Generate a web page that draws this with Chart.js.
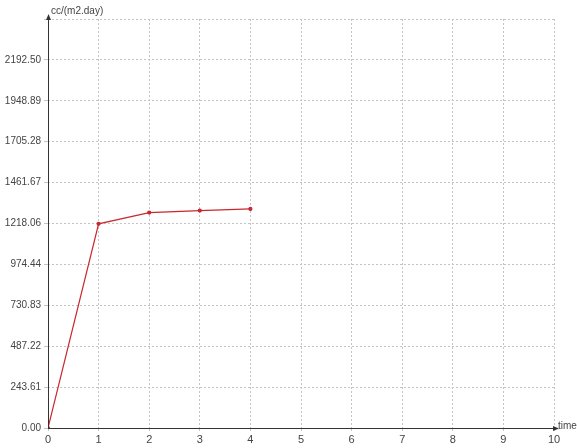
<!DOCTYPE html>
<html><head><meta charset="utf-8">
<script src="https://cdn.jsdelivr.net/npm/chart.js@4"></script>
<style>html,body{margin:0;padding:0;background:#fff}#wrap{width:577px;height:448px}</style>
</head><body><div id="wrap"><canvas id="c" width="577" height="448"></canvas></div>
<script>
const timeValues = [0, 1, 2, 3, 4];
const rateValues = [0, 1216, 1283, 1295, 1305];
const yTickLabels = ['0.00', '243.61', '487.22', '730.83', '974.44', '1218.06', '1461.67', '1705.28', '1948.89', '2192.50'];
const yMax = 2436.11;
const xMin = 0, xMax = 10;
const yTitle = 'cc/(m2.day)';
const xTitle = 'time';
const FONT = 'Liberation Sans';

const decor = {
  id: 'decor',
  afterDraw(chart) {
    const {ctx, chartArea: a} = chart;
    ctx.save();
    ctx.strokeStyle = '#333'; ctx.fillStyle = '#333'; ctx.lineWidth = 1;
    ctx.beginPath();
    ctx.moveTo(a.left + 0.5, a.bottom); ctx.lineTo(a.left + 0.5, a.top - 3);
    ctx.moveTo(a.left, a.bottom + 0.5); ctx.lineTo(a.right + 3, a.bottom + 0.5);
    ctx.stroke();
    ctx.beginPath();
    ctx.moveTo(a.left + 0.5, a.top - 5); ctx.lineTo(a.left - 2, a.top + 1); ctx.lineTo(a.left + 3, a.top + 1); ctx.closePath(); ctx.fill();
    ctx.beginPath();
    ctx.moveTo(a.right + 5, a.bottom + 0.5); ctx.lineTo(a.right - 1, a.bottom - 2); ctx.lineTo(a.right - 1, a.bottom + 3); ctx.closePath(); ctx.fill();
    ctx.font = '10px "' + FONT + '"';
    ctx.fillStyle = '#444';
    ctx.textBaseline = 'middle';
    ctx.textAlign = 'left';
    ctx.fillText(yTitle, a.left + 3, a.top - 8);
    ctx.fillText(xTitle, a.right + 4, a.bottom - 2);
    ctx.restore();
  }
};

new Chart(document.getElementById('c'), {
  type: 'line',
  data: {
    datasets: [{
      data: timeValues.map((t, i) => ({x: t, y: rateValues[i]})),
      borderColor: '#c8282d',
      backgroundColor: '#c8282d',
      borderWidth: 1.2,
      pointRadius: 1.5,
      pointHoverRadius: 1.5,
      tension: 0
    }]
  },
  options: {
    responsive: false,
    animation: false,
    layout: {padding: {top: 19, right: 23, left: 0, bottom: 0}},
    plugins: {legend: {display: false}, tooltip: {enabled: false}},
    scales: {
      x: {
        type: 'linear', min: xMin, max: xMax,
        afterFit(s) { s.height = 20; },
        ticks: {stepSize: 1, color: '#444', font: {family: FONT, size: 11}, padding: 2},
        grid: {color: '#c4c4c4', tickLength: 3},
        border: {display: false, dash: [2, 2]}
      },
      y: {
        type: 'linear', min: 0, max: yMax,
        afterFit(s) { s.width = 48; },
        afterBuildTicks(s) {
          const t = yTickLabels.map(l => ({value: parseFloat(l)}));
          t.push({value: yMax});
          s.ticks = t;
        },
        ticks: {
          color: '#444', font: {family: FONT, size: 10}, padding: 3,
          callback: (v, i) => i < yTickLabels.length ? yTickLabels[i] : ''
        },
        grid: {color: '#c4c4c4', tickLength: 4},
        border: {display: false, dash: [2, 2]}
      }
    }
  },
  plugins: [decor]
});
</script>
</body></html>
